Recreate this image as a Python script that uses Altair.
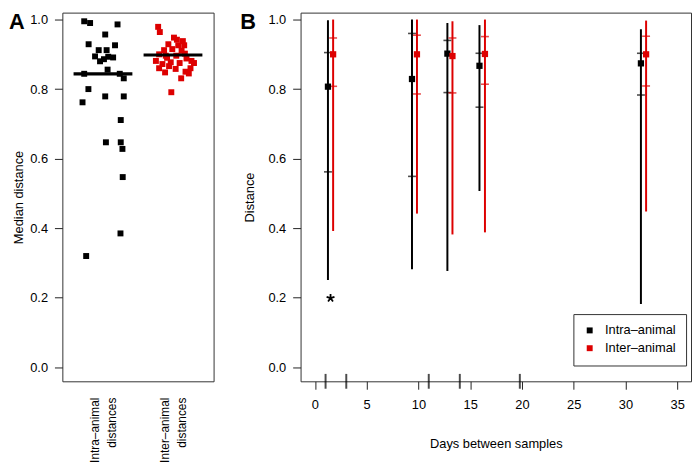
import altair as alt
import pandas as pd

FONT = "Liberation Sans"
BLACK = "#000000"
RED = "#dd0000"

# ---------------- Panel A data ----------------
intra_values = [0.995, 0.990, 0.986, 0.957, 0.929, 0.926, 0.912, 0.912, 0.894, 0.893,
                0.891, 0.886, 0.880, 0.856, 0.844, 0.844, 0.831, 0.800, 0.779, 0.779,
                0.762, 0.711, 0.647, 0.647, 0.628, 0.547, 0.385, 0.320]
intra_jitter = [-0.268, -0.184, 0.208, 0.032, -0.205, 0.172, -0.061, 0.052, -0.113, 0.075,
                0.145, 0.014, -0.042, 0.066, -0.268, 0.240, 0.297, -0.208, 0.032, 0.297,
                -0.292, 0.254, 0.042, 0.254, 0.278, 0.282, 0.250, -0.240]
inter_values = [0.979, 0.964, 0.948, 0.938, 0.929, 0.926, 0.926, 0.915, 0.910, 0.900,
                0.896, 0.896, 0.888, 0.881, 0.881, 0.877, 0.872, 0.875, 0.860, 0.860,
                0.848, 0.850, 0.866, 0.858, 0.831, 0.791, 0.845, 0.912, 0.942, 0.890,
                0.902, 0.875]
inter_jitter = [-0.212, -0.188, 0.014, 0.141, -0.066, 0.075, 0.160, -0.010, 0.123, -0.198,
                -0.103, 0.047, 0.193, 0.264, -0.244, -0.032, -0.151, 0.095, 0.250, -0.198,
                -0.113, 0.179, -0.056, 0.038, 0.117, -0.024, 0.226, -0.127, 0.056, -0.085,
                0.170, 0.300]
group_names = ["Intra\u2013animal", "Inter\u2013animal"]
group_pos = [1, 2]
group_medians = [0.844, 0.898]

# ---------------- Panel B data ----------------
intra_days = [1.26, 9.38, 12.8, 15.9, 31.5]
intra_lo = [0.251, 0.282, 0.277, 0.507, 0.182]
intra_hi = [0.998, 1.000, 0.990, 0.984, 0.972]
intra_q1 = [0.562, 0.549, 0.790, 0.748, 0.783]
intra_q3 = [0.905, 0.960, 0.940, 0.903, 0.903]
intra_med = [0.807, 0.829, 0.902, 0.867, 0.874]

inter_days = [1.76, 9.86, 13.29, 16.43, 32.0]
inter_lo = [0.392, 0.442, 0.382, 0.388, 0.448]
inter_hi = [1.000, 1.000, 0.995, 1.000, 0.997]
inter_q1 = [0.808, 0.786, 0.789, 0.814, 0.809]
inter_q3 = [0.947, 0.955, 0.947, 0.951, 0.952]
inter_med = [0.900, 0.900, 0.895, 0.901, 0.900]

star_x = [1.51]
star_y = [0.199]
rug_days = [1.03, 3.03, 11.0, 14.0, 19.8]

# ---------------- tables ----------------
dfA = pd.DataFrame({
    "pos": [group_pos[0]] * len(intra_values) + [group_pos[1]] * len(inter_values),
    "jit": intra_jitter + inter_jitter,
    "value": intra_values + inter_values,
    "group": [group_names[0]] * len(intra_values) + [group_names[1]] * len(inter_values),
})
dfMed = pd.DataFrame({"pos": group_pos, "med": group_medians, "group": group_names})

dfB = pd.DataFrame({
    "day": intra_days + inter_days,
    "lo": intra_lo + inter_lo,
    "hi": intra_hi + inter_hi,
    "q1": intra_q1 + inter_q1,
    "q3": intra_q3 + inter_q3,
    "med": intra_med + inter_med,
    "group": [group_names[0]] * 5 + [group_names[1]] * 5,
})
dfStar = pd.DataFrame({"x": star_x, "y": star_y})
dfRug = pd.DataFrame({"day": rug_days})
dfLabA = pd.DataFrame({"t": ["A"]})
dfLabB = pd.DataFrame({"t": ["B"]})

H = 373
WA = 153
WB = 395

color_scale = alt.Scale(domain=group_names, range=[BLACK, RED])
y_scale = alt.Scale(domain=[-0.0403, 1.0199], nice=False, zero=False)


def y_axis(title, pad):
    return alt.Axis(values=[0, 0.2, 0.4, 0.6, 0.8, 1.0], format=".1f", grid=False,
                    domain=False, tickSize=8, labelPadding=7, title=title,
                    titlePadding=pad, titleFontWeight="normal", titleFontSize=13)


legendB = alt.Legend(
    orient="none", legendX=276, legendY=305, title=None,
    strokeColor="#333", fillColor="white", padding=10,
    symbolType="square", symbolSize=36, symbolStrokeWidth=0, symbolOpacity=1,
    labelFont=FONT, labelFontSize=13, labelColor=BLACK, labelOffset=9,
    rowPadding=4, labelLimit=200)

# ---------------- Panel A ----------------
xA = alt.Scale(domain=[0.42, 2.58], nice=False, zero=False)
xA_axis = alt.Axis(values=[1, 2], grid=False, domain=False, ticks=False, tickSize=0,
                   labelAngle=270, labelPadding=16, labelFontSize=12, labelLineHeight=17,
                   labelOffset=-8.5,
                   labelExpr="datum.value == 1 ? ['Intra\u2013animal', 'distances'] : ['Inter\u2013animal', 'distances']",
                   title=None)

ptsA = alt.Chart(dfA).transform_calculate(xp="datum.pos + datum.jit").mark_square(
    size=36, opacity=1).encode(
    x=alt.X("xp:Q", scale=xA, axis=xA_axis),
    y=alt.Y("value:Q", scale=y_scale, axis=y_axis("Median distance", 4)),
    color=alt.Color("group:N", scale=color_scale, legend=None),
)
medA = alt.Chart(dfMed).transform_calculate(
    x1="datum.pos - 0.42", x2="datum.pos + 0.42").mark_rule(
    strokeWidth=3.2, color=BLACK).encode(
    x=alt.X("x1:Q", scale=xA, axis=xA_axis), x2="x2:Q",
    y=alt.Y("med:Q", scale=y_scale),
)
labA = alt.Chart(dfLabA).mark_text(
    align="left", baseline="top", fontSize=22, fontWeight="bold", font=FONT,
    color=BLACK).encode(text="t:N", x=alt.value(-54), y=alt.value(0))

panelA = alt.layer(ptsA, medA, labA).properties(width=WA, height=H)

# ---------------- Panel B ----------------
xB = alt.Scale(domain=[-1.385, 36.34], nice=False, zero=False)
xB_axis = alt.Axis(values=[0, 5, 10, 15, 20, 25, 30, 35], grid=False, domain=False,
                   tickSize=8, labelPadding=10, title="Days between samples",
                   titlePadding=26, titleFontWeight="normal", titleFontSize=13)

base = alt.Chart(dfB)
colB = alt.Color("group:N", scale=color_scale, title=None, legend=legendB)
rulesB = base.mark_rule(strokeWidth=2).encode(
    x=alt.X("day:Q", scale=xB, axis=xB_axis),
    y=alt.Y("lo:Q", scale=y_scale, axis=y_axis("Distance", 12)), y2="hi:Q",
    color=colB,
)
q1B = base.mark_tick(orient="horizontal", size=8, thickness=1.6).encode(
    x=alt.X("day:Q", scale=xB), y=alt.Y("q1:Q", scale=y_scale), color=colB,
)
q3B = base.mark_tick(orient="horizontal", size=8, thickness=1.6).encode(
    x=alt.X("day:Q", scale=xB), y=alt.Y("q3:Q", scale=y_scale), color=colB,
)
medB = base.mark_square(size=40, opacity=1).encode(
    x=alt.X("day:Q", scale=xB), y=alt.Y("med:Q", scale=y_scale), color=colB,
)
star = alt.Chart(dfStar).mark_point(
    shape="M0,-1L0,0M0.95,-0.31L0,0M0.59,0.81L0,0M-0.59,0.81L0,0M-0.95,-0.31L0,0",
    size=70, strokeWidth=1.8, color=BLACK, filled=False, opacity=1).encode(
    x=alt.X("x:Q", scale=xB), y=alt.Y("y:Q", scale=y_scale))
rug = alt.Chart(dfRug).mark_tick(orient="vertical", size=15, thickness=2, color=BLACK).encode(
    x=alt.X("day:Q", scale=xB), y=alt.value(H))
labB = alt.Chart(dfLabB).mark_text(
    align="left", baseline="top", fontSize=22, fontWeight="bold", font=FONT,
    color=BLACK).encode(text="t:N", x=alt.value(-61), y=alt.value(0))

panelB = alt.layer(rulesB, q1B, q3B, medB, star, rug, labB).properties(width=WB, height=H)

chart = alt.hconcat(panelA, panelB, spacing=88, bounds="flush").resolve_scale(
    color="independent"
).resolve_legend(
    color="independent"
).properties(
    padding=0
).configure_view(
    stroke="#333", strokeWidth=1
).configure_axis(
    labelFont=FONT, titleFont=FONT, labelFontSize=13, labelColor=BLACK,
    titleColor=BLACK, tickColor="#222", tickWidth=1
)

chart.save("out.html", embed_options={"renderer": "svg", "actions": False})
